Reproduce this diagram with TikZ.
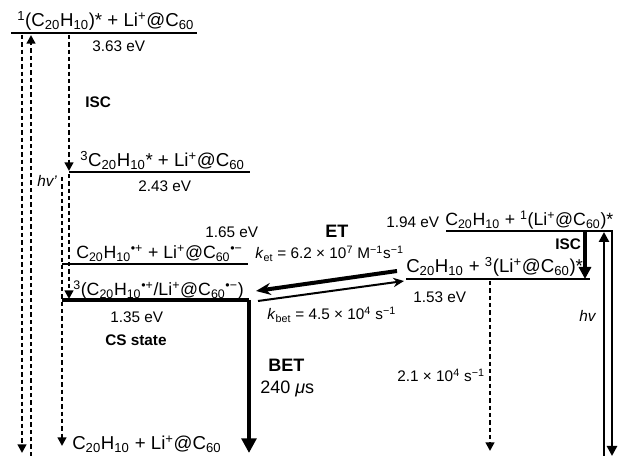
\documentclass[tikz,border=0pt]{standalone}
\usepackage{fontspec}
\setmainfont{Liberation Sans}
\usetikzlibrary{arrows.meta}
\newcommand{\CZH}{C\textsubscript{20}H\textsubscript{10}}
\newcommand{\LIC}{Li\textsuperscript{+}@C\textsubscript{60}}
\begin{document}
\begin{tikzpicture}[x=0.75pt,y=-0.75pt,
  elevel/.style={line width=1.8pt},
  chemlabel/.style={font=\fontsize{14}{16}\selectfont, inner sep=0pt, anchor=base west},
  chemsmall/.style={font=\fontsize{13.3}{16}\selectfont, inner sep=0pt, anchor=base west},
  evlabel/.style={font=\fontsize{11.5}{14}\selectfont, inner sep=0pt, anchor=base west},
  boldlabel/.style={font=\fontsize{11.5}{14}\selectfont\bfseries, inner sep=0pt, anchor=base west},
  biglabel/.style={font=\fontsize{13.5}{16}\selectfont\bfseries, inner sep=0pt, anchor=base west},
  dasharrow/.style={line width=2pt, dash pattern=on 3.2pt off 2.3pt, -{Triangle[length=6.5pt,width=6.5pt]}},
]
\useasboundingbox (0,0) rectangle (619,456);

% level end points
\coordinate (L1a) at (11,33);  \coordinate (L1b) at (197,33);
\coordinate (L2a) at (69,172); \coordinate (L2b) at (250,172);
\coordinate (L3a) at (62,264); \coordinate (L3b) at (248,264);
\coordinate (L4a) at (62,300); \coordinate (L4b) at (249,300);
\coordinate (R1a) at (446,231); \coordinate (R1b) at (613,231);
\coordinate (R2a) at (406,279); \coordinate (R2b) at (590,279);

% levels
\draw[elevel] (L1a) -- (L1b);
\draw[elevel] (L2a) -- (L2b);
\draw[elevel] (L3a) -- (L3b);
\draw[line width=2.4pt] (L4a) -- (L4b);
\draw[line width=1.5pt] (R1a) -- (R1b);
\draw[elevel] (R2a) -- (R2b);

% labels
\node[chemlabel] (t1) at (17,27) {\textsuperscript{1}(\CZH)* + \LIC};
\node[evlabel] (e1) at (92,52) {3.63 eV};
\node[boldlabel] (isc1) at (85,108) {ISC};
\node[chemlabel] (t2) at (80,167) {\textsuperscript{3}\CZH* + \LIC};
\node[evlabel] (e2) at (138,192) {2.43 eV};
\node[evlabel,font=\fontsize{11.5}{14}\selectfont\itshape] (hv1) at (37,187) {hv'};
\node[evlabel] (e3) at (205,238) {1.65 eV};
\node[chemsmall] (t3) at (76,259) {\CZH\textsuperscript{•+} + \LIC\textsuperscript{•−}};
\node[chemsmall] (t4) at (73,296) {\textsuperscript{3}(\CZH\textsuperscript{•+}/\LIC\textsuperscript{•−})};
\node[evlabel] (e4) at (110,323) {1.35 eV};
\node[boldlabel] (cs) at (105,346) {CS state};
\node[biglabel] (bet) at (268,372) {BET};
\node[evlabel,font=\fontsize{13.5}{16}\selectfont] (tau) at (260,394) {240 \textit{μ}s};
\node[chemlabel] (gnd) at (72,450) {\CZH{} + \LIC};

\node[biglabel] (et) at (325,238) {ET};
\node[evlabel] (ket) at (255,259) {\textit{k}\textsubscript{et} = 6.2 × 10\textsuperscript{7} M\textsuperscript{−1}s\textsuperscript{−1}};
\node[evlabel] (kbet) at (267,320) {\textit{k}\textsubscript{bet} = 4.5 × 10\textsuperscript{4} s\textsuperscript{−1}};
\node[evlabel] (e5) at (386,228) {1.94 eV};
\node[chemsmall] (r1) at (445,226) {\CZH{} + \textsuperscript{1}(\LIC)*};
\node[boldlabel] (isc2) at (555,250) {ISC};
\node[chemlabel] (r2) at (406,273) {\CZH{} + \textsuperscript{3}(\LIC)*};
\node[evlabel] (e6) at (413,303) {1.53 eV};
\node[evlabel,font=\fontsize{11.5}{14}\selectfont\itshape] (hv2) at (579,322) {hv};
\node[evlabel,anchor=base east] (kph) at (485,382) {2.1 × 10\textsuperscript{4} s\textsuperscript{−1}};

% dashed connectors
\coordinate (d1a) at (22,35);  \coordinate (d1b) at (22,453);
\coordinate (d2a) at (31,456); \coordinate (d2b) at (31,35);
\coordinate (d3a) at (69,35);  \coordinate (d3b) at (69,171);
\coordinate (d4a) at (62,177); \coordinate (d4b) at (62,446);
\coordinate (d5a) at (69,174); \coordinate (d5b) at (69,299);
\coordinate (d6a) at (490,281); \coordinate (d6b) at (490,451);
\draw[dasharrow] (d1a) -- (d1b);
\draw[dasharrow] (d2a) -- (d2b);
\draw[dasharrow] (d3a) -- (d3b);
\draw[dasharrow] (d4a) -- (d4b);
\draw[dasharrow] (d5a) -- (d5b);
\draw[dasharrow] (d6a) -- (d6b);

% solid connectors
\coordinate (betb) at (249,453);
\draw[line width=3pt, -{Triangle[length=11pt,width=11pt]}] (L4b) -- (betb);
\coordinate (et1) at (397,271); \coordinate (et2) at (256,291);
\draw[line width=3pt, -{Stealth[length=11pt,width=9pt]}] (et1) -- (et2);
\coordinate (bt1) at (258,301); \coordinate (bt2) at (404,281);
\draw[line width=1.5pt, -{Stealth[length=8pt,width=7pt]}] (bt1) -- (bt2);
\coordinate (isca) at (585,232); \coordinate (iscb) at (585,279);
\draw[line width=2.3pt, -{Triangle[length=9pt,width=9pt]}] (isca) -- (iscb);
\coordinate (hva) at (604,456); \coordinate (hvb) at (604,232);
\draw[line width=2.2pt, -{Triangle[length=7.5pt,width=7.5pt]}] (hva) -- (hvb);
\coordinate (hvc) at (612,231); \coordinate (hvd) at (612,456);
\draw[line width=2.2pt, -{Triangle[length=7.5pt,width=7.5pt]}] (hvc) -- (hvd);
\end{tikzpicture}
\end{document}
